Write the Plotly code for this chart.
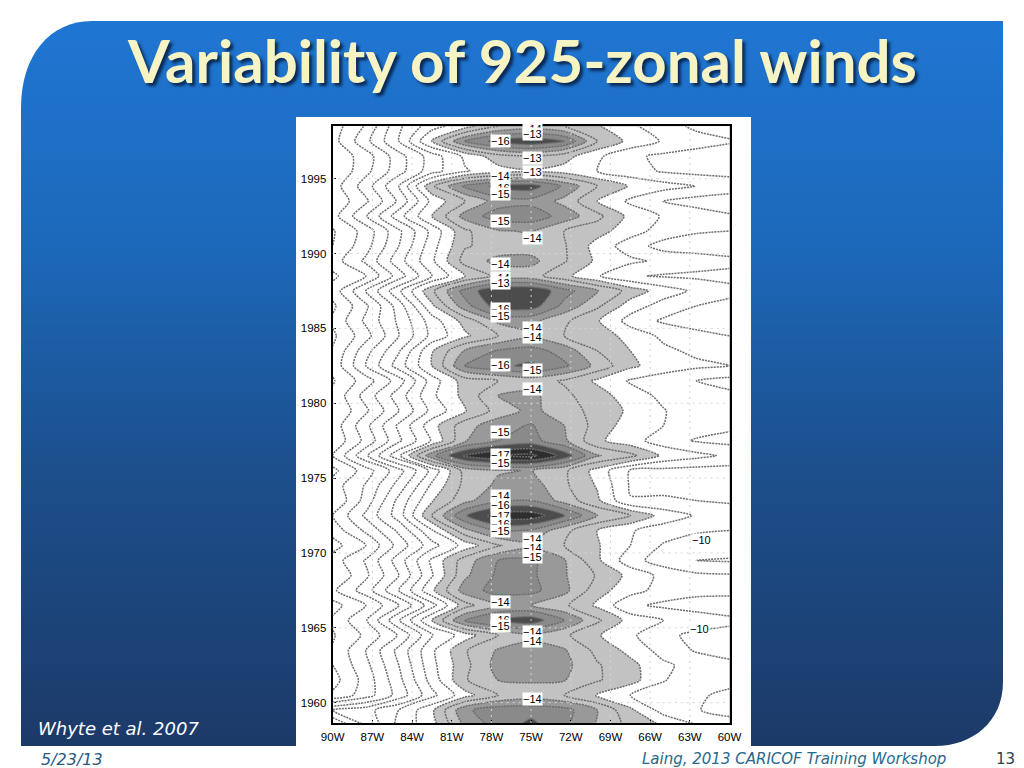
import base64
import plotly.graph_objects as go

# longitudes (degrees west), left to right
lon = [90, 87.5, 85, 82.5, 80, 77.5, 75, 72.5, 70, 67.5, 65, 62.5, 60]
year = [y + 0.5 for y in range(1958, 1999)]

# 925 hPa zonal wind per year (m/s), one list per year
w1958 = [-6.0, -8.0, -10.3, -11.6, -14.2, -15.4, -16.3, -15.2, -13.9, -12.7, -11.9, -11.05, -10.4]
w1959 = [-8.0, -8.6, -10.0, -11.8, -14.8, -15.6, -15.6, -15.4, -14.0, -12.2, -10.6, -10.05, -9.7]
w1960 = [-4.2, -5.5, -7.4, -9.7, -11.6, -13.0, -13.5, -13.0, -11.9, -11.0, -10.6, -10.2, -9.7]
w1961 = [-3.6, -5.4, -7.7, -10.4, -12.9, -14.0, -14.1, -14.05, -13.1, -12.4, -11.05, -10.5, -10.4]
w1962 = [-4.0, -5.7, -8.0, -10.7, -12.7, -14.4, -14.5, -14.3, -13.1, -12.3, -11.2, -10.6, -10.2]
w1963 = [-4.1, -6.0, -8.3, -10.8, -12.9, -14.1, -14.3, -14.1, -12.7, -11.7, -10.6, -9.9, -9.7]
w1964 = [-3.9, -5.2, -7.1, -9.9, -11.5, -13.0, -13.8, -13.2, -12.1, -11.2, -10.2, -9.8, -9.7]
w1965 = [-4.2, -5.9, -8.9, -12.0, -15.1, -16.2, -16.6, -15.0, -13.2, -11.6, -11.0, -10.5, -10.2]
w1966 = [-3.6, -5.0, -7.0, -9.6, -12.6, -14.0, -14.0, -13.2, -11.8, -10.2, -9.8, -9.6, -9.5]
w1967 = [-4.8, -6.5, -9.0, -11.8, -14.5, -15.4, -15.3, -14.3, -12.4, -11.4, -10.6, -10.3, -10.3]
w1968 = [-4.0, -5.8, -8.0, -10.9, -13.8, -15.2, -15.2, -14.1, -12.9, -11.7, -10.7, -10.2, -10.1]
w1969 = [-4.5, -6.1, -8.5, -11.2, -13.5, -15.0, -15.2, -14.1, -12.2, -10.4, -9.5, -9.0, -8.9]
w1970 = [-3.6, -5.0, -7.4, -9.6, -11.4, -12.9, -13.7, -13.0, -12.1, -11.0, -9.9, -9.6, -9.6]
w1971 = [-4.4, -6.2, -8.2, -10.9, -13.7, -15.2, -14.9, -13.3, -12.0, -11.1, -10.5, -10.1, -10.0]
w1972 = [-5.0, -7.2, -9.5, -13.0, -15.9, -17.5, -17.6, -16.1, -14.0, -13.0, -11.6, -10.9, -10.4]
w1973 = [-4.0, -6.4, -9.3, -11.9, -13.7, -14.8, -15.0, -13.6, -12.2, -10.05, -10.1, -10.0, -9.9]
w1974 = [-4.5, -6.1, -8.4, -11.2, -13.3, -14.2, -14.5, -13.2, -11.9, -9.9, -9.8, -9.7, -9.6]
w1975 = [-3.7, -5.5, -7.6, -10.3, -13.4, -13.9, -14.05, -13.2, -11.6, -9.9, -9.7, -9.6, -9.6]
w1976 = [-5.0, -7.8, -10.8, -14.7, -17.2, -18.0, -18.3, -16.6, -14.1, -13.3, -11.8, -11.3, -10.8]
w1977 = [-4.2, -6.3, -8.8, -11.1, -13.9, -15.0, -15.4, -14.2, -12.2, -11.4, -10.5, -9.9, -9.7]
w1978 = [-4.4, -6.7, -9.2, -11.6, -13.6, -14.6, -15.1, -14.0, -12.6, -11.5, -11.0, -10.5, -10.2]
w1979 = [-4.0, -5.8, -8.0, -10.3, -11.9, -13.4, -14.3, -13.4, -12.7, -11.8, -11.05, -10.5, -10.2]
w1980 = [-4.2, -6.4, -8.5, -10.8, -12.3, -14.0, -14.3, -13.2, -12.5, -11.4, -10.8, -10.3, -10.2]
w1981 = [-3.9, -5.5, -7.5, -10.5, -12.5, -13.0, -13.4, -12.9, -11.8, -10.9, -10.5, -10.0, -9.7]
w1982 = [-4.3, -7.0, -9.5, -12.0, -15.0, -15.8, -16.2, -15.2, -13.7, -12.2, -11.5, -11.2, -11.0]
w1983 = [-4.1, -6.6, -8.9, -11.9, -14.1, -15.1, -15.4, -14.6, -13.0, -12.0, -11.2, -10.8, -10.6]
w1984 = [-3.8, -5.6, -8.0, -10.3, -11.8, -13.0, -13.8, -13.0, -12.6, -11.6, -10.8, -10.2, -10.0]
w1985 = [-4.2, -6.2, -8.2, -10.5, -12.4, -14.2, -14.3, -13.2, -12.1, -10.6, -9.85, -9.7, -9.6]
w1986 = [-3.8, -5.8, -8.5, -11.8, -14.6, -16.5, -16.5, -14.7, -13.2, -11.5, -10.6, -10.0, -9.7]
w1987 = [-4.4, -7.0, -9.8, -12.8, -15.4, -16.9, -16.9, -15.4, -14.1, -12.6, -11.5, -10.8, -10.3]
w1988 = [-3.8, -5.0, -7.5, -10.0, -12.0, -13.3, -13.4, -12.3, -11.1, -10.1, -9.9, -9.8, -9.7]
w1989 = [-4.5, -6.2, -8.6, -10.8, -13.4, -14.3, -14.3, -13.1, -11.8, -11.2, -10.8, -10.5, -10.3]
w1990 = [-4.0, -5.6, -8.0, -10.6, -12.9, -13.4, -13.5, -13.1, -11.6, -10.5, -9.6, -9.5, -9.3]
w1991 = [-3.9, -5.4, -7.8, -10.3, -12.8, -13.9, -14.1, -13.0, -12.4, -11.4, -10.6, -10.1, -10.0]
w1992 = [-4.6, -6.9, -9.6, -12.0, -14.4, -15.5, -15.6, -14.6, -13.3, -11.7, -10.9, -10.5, -10.1]
w1993 = [-4.2, -5.8, -8.2, -11.3, -13.0, -14.5, -14.7, -13.7, -12.0, -10.8, -9.95, -9.6, -9.5]
w1994 = [-4.5, -6.5, -9.0, -12.8, -15.2, -16.3, -16.5, -14.8, -13.0, -11.9, -11.4, -10.98, -10.5]
w1995 = [-4.0, -5.7, -7.6, -9.6, -10.9, -11.6, -11.9, -11.6, -11.0, -10.4, -9.9, -9.7, -9.7]
w1996 = [-4.2, -5.5, -7.6, -9.5, -11.2, -12.6, -13.1, -12.4, -11.2, -10.2, -9.8, -9.6, -9.5]
w1997 = [-4.6, -6.7, -9.0, -12.1, -15.0, -16.4, -16.8, -16.0, -13.0, -11.7, -10.9, -10.4, -10.1]
w1998 = [-4.5, -6.1, -8.8, -10.6, -11.6, -13.0, -13.4, -13.0, -12.1, -11.2, -10.4, -9.8, -9.5]

wind = [w1958, w1959, w1960, w1961, w1962, w1963, w1964, w1965, w1966, w1967,
        w1968, w1969, w1970, w1971, w1972, w1973, w1974, w1975, w1976, w1977,
        w1978, w1979, w1980, w1981, w1982, w1983, w1984, w1985, w1986, w1987,
        w1988, w1989, w1990, w1991, w1992, w1993, w1994, w1995, w1996, w1997, w1998]

# contour labels drawn on the map
label_text = ["−14", "−13", "−16", "−13", "−13", "−14", "−16", "−15", "−15", "−14",
              "−14", "−14", "−13", "−16", "−15", "−14", "−14", "−16", "−15", "−14",
              "−15", "−17", "−15", "−14", "−16", "−17", "−16", "−15", "−14", "−14",
              "−15", "−14", "−16", "−15", "−14", "−14", "−14", "−10", "−10"]
label_lon = [74.88, 74.88, 77.35, 74.88, 74.88, 77.35, 77.35, 77.35, 77.35, 74.88,
             77.35, 77.35, 77.35, 77.35, 77.35, 74.88, 74.88, 77.35, 74.88, 74.88,
             77.35, 77.35, 77.35, 77.35, 77.35, 77.35, 77.35, 77.35, 74.88, 74.88,
             74.88, 77.35, 77.35, 77.35, 74.88, 74.88, 74.88, 62.14, 62.27]
label_year = [1998.34, 1998.0, 1997.52, 1996.36, 1995.45, 1995.18, 1994.35, 1993.95, 1992.17, 1991.06,
              1989.30, 1988.34, 1988.05, 1986.29, 1985.82, 1985.02, 1984.42, 1982.57, 1982.22, 1980.97,
              1978.07, 1976.51, 1976.0, 1973.8, 1973.17, 1972.44, 1971.95, 1971.46, 1970.9, 1970.32,
              1969.72, 1966.69, 1965.49, 1965.11, 1964.71, 1964.15, 1960.26, 1970.88, 1964.91]

lon_ticks = [90, 87, 84, 81, 78, 75, 72, 69, 66, 63, 60]
lon_tick_text = ["90W", "87W", "84W", "81W", "78W", "75W", "72W", "69W", "66W", "63W", "60W"]
year_ticks = [1960, 1965, 1970, 1975, 1980, 1985, 1990, 1995]

W, H = 1024, 768
svg = f'''<svg xmlns="http://www.w3.org/2000/svg" width="{W}" height="{H}" viewBox="0 0 {W} {H}">
<defs><linearGradient id="g" x1="0" y1="21" x2="0" y2="746" gradientUnits="userSpaceOnUse">
<stop offset="0" stop-color="#1f76d2"/><stop offset="0.3" stop-color="#1c69bb"/>
<stop offset="0.62" stop-color="#1c4f8c"/><stop offset="1" stop-color="#1c3a68"/></linearGradient></defs>
<path d="M21 108 C21 55 50 21 92 21 L1003 21 L1003 682 C1003 722 972 746 935 746 L21 746 Z" fill="url(#g)"/>
</svg>'''
bg = "data:image/svg+xml;base64," + base64.b64encode(svg.encode()).decode()

L, R, T, B = 332.7, 729.5, 125.5, 723.0

# band colours keyed to the contour levels (zmin -20 .. zmax 0)
def stop(v):
    return (v + 20) / 20
bands = [(-20, -17, "#2e2e2e"), (-17, -16, "#4c4c4c"), (-16, -15, "#8a8a8a"),
         (-15, -14, "#999999"), (-14, -12, "#c2c2c2"), (-12, 0, "#ffffff")]
colorscale = []
for a, b, c in bands:
    colorscale.append([stop(a), c])
    colorscale.append([stop(b), c])

fig = go.Figure(go.Contour(
    x=lon, y=year, z=wind,
    zmin=-20, zmax=0, autocontour=False,
    contours=dict(start=-20, end=0, size=1, coloring="fill", showlabels=False),
    colorscale=colorscale, showscale=False,
    line=dict(color="#6c6c6c", width=1.5, dash="2px,1px", smoothing=0.7),
    hoverinfo="skip",
))

shapes = [dict(type="rect", xref="paper", yref="paper", layer="below",
               x0=296 / W, x1=751 / W, y0=1 - 746 / H, y1=1 - 117 / H,
               fillcolor="white", line=dict(width=0))]
grid = dict(color="#d4d4d4", width=1, dash="2px,4px")
for v in lon_ticks[1:-1]:
    shapes.append(dict(type="line", xref="x", yref="paper", layer="above",
                       x0=v, x1=v, y0=1 - B / H, y1=1 - T / H, line=grid))
for v in year_ticks:
    shapes.append(dict(type="line", xref="paper", yref="y", layer="above",
                       x0=L / W, x1=R / W, y0=v, y1=v, line=grid))

fig.update_layout(
    width=W, height=H, margin=dict(l=0, r=0, t=0, b=0, autoexpand=False), autosize=False,
    paper_bgcolor="white", plot_bgcolor="white", showlegend=False,
    images=[dict(source=bg, xref="paper", yref="paper", x=0, y=1, sizex=1, sizey=1,
                 xanchor="left", yanchor="top", sizing="stretch", layer="below")],
    shapes=shapes,
    xaxis=dict(domain=[L / W, R / W], range=[90, 60], tickvals=lon_ticks, ticktext=lon_tick_text,
               ticks="inside", ticklen=3, tickwidth=1, tickcolor="black",
               showgrid=False, zeroline=False,
               showline=True, mirror=True, linecolor="black", linewidth=2,
               tickfont=dict(family="Liberation Sans", size=11.5, color="black"), ticklabelstandoff=2),
    yaxis=dict(domain=[1 - B / H, 1 - T / H], range=[1958.64, 1998.55], tickvals=year_ticks,
               ticks="inside", ticklen=3, tickwidth=1, tickcolor="black",
               showgrid=False, zeroline=False,
               showline=True, mirror=True, linecolor="black", linewidth=2,
               tickfont=dict(family="Liberation Sans", size=11.5, color="black"), ticklabelstandoff=2),
)

for t, x, y in zip(label_text, label_lon, label_year):
    fig.add_annotation(x=x, y=y, text=t, showarrow=False, xanchor="center", yanchor="middle",
                       bgcolor="white", borderpad=0, font=dict(family="Liberation Sans", size=11, color="black"))

def note(text, x, y, size, color, family, anchor="left", **font):
    fig.add_annotation(xref="paper", yref="paper", x=x / W, y=1 - y / H, text=text, showarrow=False,
                       xanchor=anchor, yanchor="middle",
                       font=dict(family=family, size=size, color=color, **font))

note("Variability of 925-zonal winds", 522, 60, 60, "#f6f3c4", "Lato", "center",
     weight="bold", shadow="3px 3px 3px #0b2a55")
note("Whyte et al. 2007", 36, 728, 18, "white", "DejaVu Sans", style="italic")
note("5/23/13", 39, 759, 16, "#27597f", "DejaVu Sans", style="italic")
note("Laing, 2013 CARICOF Training Workshop", 948, 759, 15, "#27688c", "DejaVu Sans", "right", style="italic")
note("13", 1005, 759, 15, "#2b4250", "DejaVu Sans", "center")

fig.write_html("out.html", config={"displayModeBar": False},
               post_script="document.body.style.margin='0';document.body.style.overflow='hidden';")
